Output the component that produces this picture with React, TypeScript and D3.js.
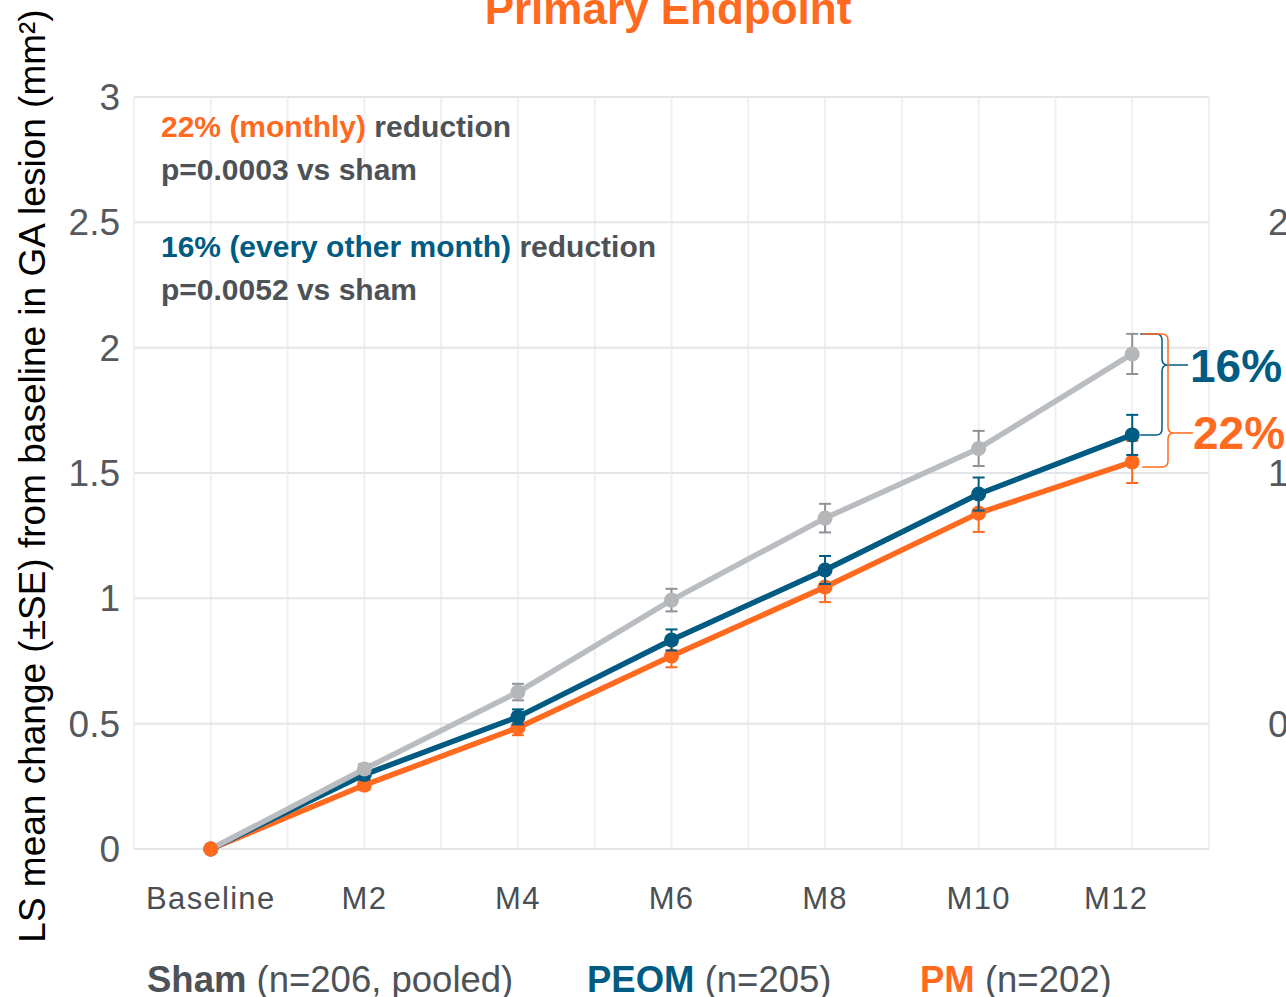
import React from 'react';
import * as d3 from 'd3';

const categories = ['Baseline', 'M2', 'M4', 'M6', 'M8', 'M10', 'M12'];
const shamMean = [0, 0.319, 0.626, 0.993, 1.32, 1.598, 1.975];
const shamSE = [0, 0.02, 0.033, 0.045, 0.057, 0.07, 0.08];
const peomMean = [0, 0.297, 0.527, 0.834, 1.113, 1.416, 1.652];
const peomSE = [0, 0.02, 0.03, 0.042, 0.056, 0.066, 0.08];
const pmMean = [0, 0.255, 0.484, 0.77, 1.045, 1.34, 1.544];
const pmSE = [0, 0.02, 0.03, 0.045, 0.06, 0.075, 0.084];
const yTicks = [0, 0.5, 1, 1.5, 2, 2.5, 3];
const cutTicks = [0.5, 1.5, 2.5]; // next panel's axis, clipped at right edge

const ORANGE = '#ff6a1f';
const BLUE = '#005b82';
const GRAY = '#b9bcc0';
const TEXT = '#4d5257';
const FONT = '"Liberation Sans", Arial, sans-serif';

const W = 1286;
const H = 997;

const x = d3.scalePoint<string>().domain(categories).range([134, 1209]).padding(0.5);
const y = d3.scaleLinear().domain([0, 3]).range([849, 97]);

const series = [
  { name: 'PM', mean: pmMean, se: pmSE, line: ORANGE, dot: ORANGE, bar: ORANGE },
  { name: 'PEOM', mean: peomMean, se: peomSE, line: BLUE, dot: BLUE, bar: BLUE },
  { name: 'Sham', mean: shamMean, se: shamSE, line: GRAY, dot: '#b5b6b8', bar: '#8d9399' },
];

const line = d3
  .line<number>()
  .x((_, i) => x(categories[i]) as number)
  .y((d) => y(d));

// curly brace with the tip at yTip
function brace(x0: number, xb: number, xt: number, yTop: number, yTip: number, yBot: number, r = 6) {
  return `M${x0},${yTop}H${xb - r}Q${xb},${yTop} ${xb},${yTop + r}V${yTip - r}Q${xb},${yTip} ${xb + r},${yTip}H${xt}` +
    `M${xb + r},${yTip}Q${xb},${yTip} ${xb},${yTip + r}V${yBot - r}Q${xb},${yBot} ${xb - r},${yBot}H${x0}`;
}

export default function App() {
  const step = x.step();
  const vLines = d3.range(0, categories.length * 2 + 1).map((i) => 134 + (i * step) / 2);
  const last = categories.length - 1;
  const xl = x(categories[last]) as number;
  const shamTop = y(shamMean[last] + shamSE[last]);

  return (
    <svg width={W} height={H} style={{ position: 'absolute', left: 0, top: 0, background: '#fff' }} fontFamily={FONT}>
      {/* grid */}
      {vLines.map((v, i) => (
        <line key={'v' + i} x1={v} x2={v} y1={y(3)} y2={y(0)} stroke="#eff0f2" strokeWidth={2} />
      ))}
      {yTicks.map((t) => (
        <line key={'h' + t} x1={134} x2={1209} y1={y(t)} y2={y(t)} stroke="#e3e6e9" strokeWidth={2} />
      ))}

      {/* title */}
      <text x={668} y={24} textAnchor="middle" fontSize={44} fontWeight="bold" fill={ORANGE}>Primary Endpoint</text>

      {/* y axis */}
      {yTicks.map((t) => (
        <text key={'yt' + t} x={120} y={y(t) + 13} textAnchor="end" fontSize={37} fill="#55595d">{String(t)}</text>
      ))}
      {cutTicks.map((t) => (
        <text key={'ct' + t} x={1268} y={y(t) + 13} textAnchor="start" fontSize={37} fill="#55595d">{String(t)}</text>
      ))}
      <text transform="translate(45,476) rotate(-90)" textAnchor="middle" fontSize={37} fill="#000">
        LS mean change (±SE) from baseline in GA lesion (mm²)
      </text>

      {/* x axis labels */}
      {categories.map((c, i) => (
        <text key={c} x={(x(c) as number) - (i === last ? 16 : 0)} y={909} textAnchor="middle" fontSize={31} letterSpacing={1.3} fill="#4a4f55">{c}</text>
      ))}

      {/* annotations */}
      <text x={161} y={137} fontSize={30} fontWeight="bold" fill={TEXT}>
        <tspan fill={ORANGE}>22% (monthly)</tspan> reduction
      </text>
      <text x={161} y={180} fontSize={30} fontWeight="bold" fill={TEXT}>p=0.0003 vs sham</text>
      <text x={161} y={257} fontSize={30} fontWeight="bold" fill={TEXT}>
        <tspan fill={BLUE}>16% (every other month)</tspan> reduction
      </text>
      <text x={161} y={300} fontSize={30} fontWeight="bold" fill={TEXT}>p=0.0052 vs sham</text>

      {/* series */}
      {series.map((s) => (
        <g key={s.name}>
          <path d={line(s.mean) as string} fill="none" stroke={s.line} strokeWidth={5.5} strokeLinejoin="round" />
          {s.mean.map((m, i) =>
            s.se[i] > 0 ? (
              <g key={'e' + i} stroke={s.bar} strokeWidth={2}>
                <line x1={x(categories[i]) as number} x2={x(categories[i]) as number} y1={y(m - s.se[i])} y2={y(m + s.se[i])} />
                <line x1={(x(categories[i]) as number) - 6} x2={(x(categories[i]) as number) + 6} y1={y(m + s.se[i])} y2={y(m + s.se[i])} />
                <line x1={(x(categories[i]) as number) - 6} x2={(x(categories[i]) as number) + 6} y1={y(m - s.se[i])} y2={y(m - s.se[i])} />
              </g>
            ) : null
          )}
          {s.mean.map((m, i) => (
            <circle key={'c' + i} cx={x(categories[i]) as number} cy={y(m)} r={7.5} fill={s.dot} />
          ))}
        </g>
      ))}
      <circle cx={x(categories[0]) as number} cy={y(pmMean[0])} r={7.5} fill={ORANGE} />

      {/* braces */}
      <path d={brace(xl + 8, 1162, 1188, shamTop, 365, y(peomMean[last]))} fill="none" stroke={BLUE} strokeWidth={1.5} />
      <path d={brace(xl + 10, 1168, 1193, shamTop, 433, y(pmMean[last]) + 5)} fill="none" stroke={ORANGE} strokeWidth={1.5} />
      <text x={1190} y={382} fontSize={46} fontWeight="bold" fill={BLUE}>16%</text>
      <text x={1193} y={449} fontSize={46} fontWeight="bold" fill={ORANGE}>22%</text>

      {/* legend */}
      <text x={147} y={992} fontSize={36.5} fill={TEXT}>
        <tspan fontWeight="bold">Sham</tspan> (n=206, pooled)
      </text>
      <text x={587} y={992} fontSize={36.5} fill={TEXT}>
        <tspan fontWeight="bold" fill={BLUE}>PEOM</tspan> (n=205)
      </text>
      <text x={920} y={992} fontSize={36.5} fill={TEXT}>
        <tspan fontWeight="bold" fill={ORANGE}>PM</tspan> (n=202)
      </text>
    </svg>
  );
}
